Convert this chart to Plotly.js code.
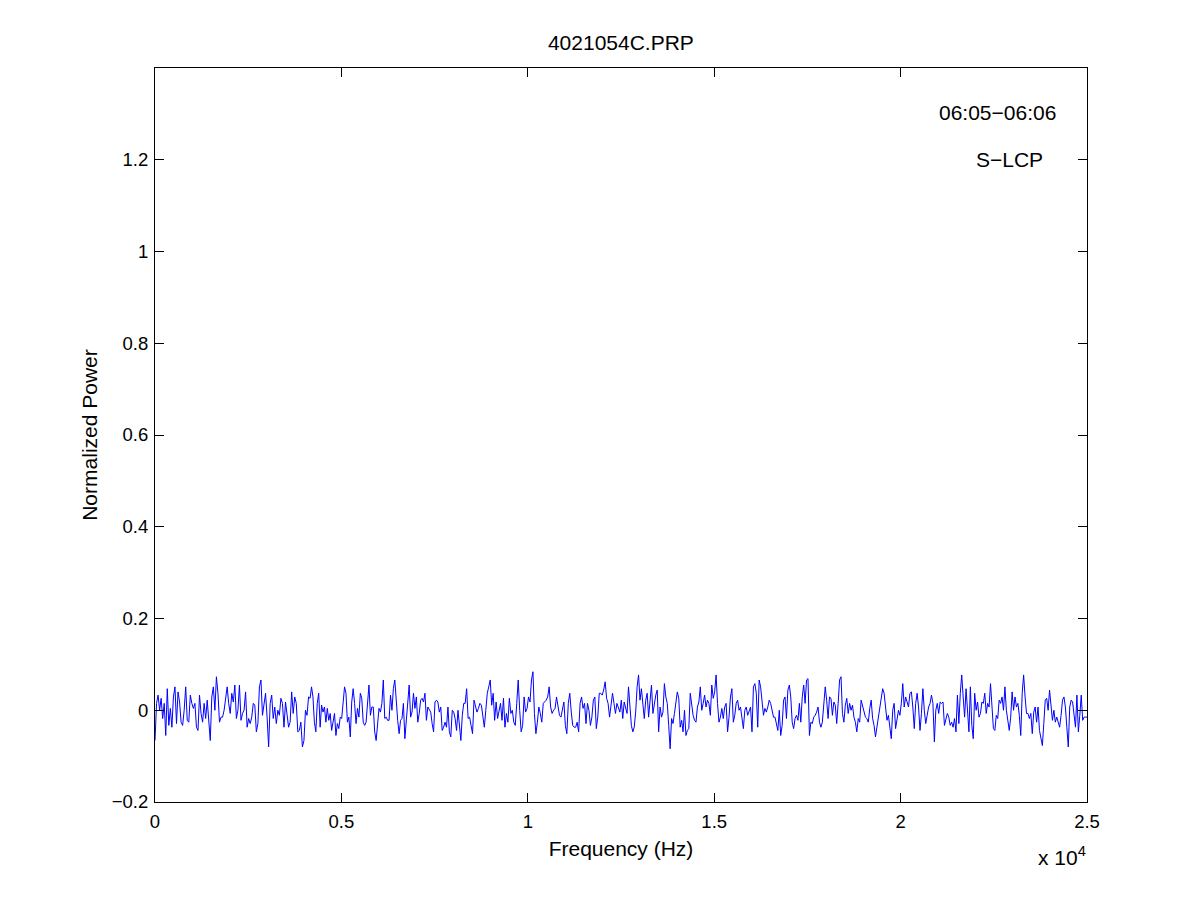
<!DOCTYPE html>
<html>
<head>
<meta charset="utf-8">
<script src="https://cdn.plot.ly/plotly-3.0.1.min.js"></script>
<style>
  body { margin: 0; background: #fff; }
  #chart { width: 1201px; height: 901px; }
</style>
</head>
<body>
<div id="chart"></div>
<script>
// Normalized power, one array per frequency band
var bandEdges = [0, 4160, 8320, 12470, 16630, 20790, 25000];

var band1 = [-0.066,0.015,0.033,0,0.026,-0.018,0.015,-0.055,0.047,-0.033,0.004,-0.037,0.029,0.051,-0.029,0.040,0.018,-0.026,-0.033,0,0.051,-0.022,-0.026,0.033,0.015,0.004,0.015,-0.037,-0.044,0.033,-0.007,-0.026,0.015,-0.018,0.022,-0.015,-0.066,0.029,0.051,0,0.073,0.037,-0.026,-0.015,-0.015,0,0.022,0.051,0.015,-0.007,0.037,0.018,0.055,-0.018,0,0.055,-0.022,-0.007,0,0.040,-0.037,-0.018,-0.029,-0.015,0.015,0.011,-0.047,-0.029,0.051,0.066,-0.011,0.015,0.037,-0.015,-0.080,0.015,0.033,-0.018,0.007,-0.029,0,-0.011,0.026,0.015,-0.037,0.018,-0.007,-0.037,-0.026,0.040,-0.007,0.029,0.015,-0.047,-0.044,-0.026,-0.080,-0.066,0,-0.011,0.029];

var band2 = [0.026,0.051,0.029,-0.026,-0.047,0.015,0.037,-0.037,0.011,-0.004,0.007,-0.026,0.004,-0.022,-0.007,-0.044,-0.026,-0.007,-0.055,-0.029,-0.040,-0.015,-0.018,0.018,0.051,0.037,-0.026,-0.015,-0.058,0.018,0.047,0.015,-0.029,0.004,-0.015,0.037,0.026,-0.026,-0.033,-0.026,0.022,0.055,-0.011,0.007,0.007,-0.047,-0.066,-0.037,0.004,-0.004,0.015,0.066,-0.018,-0.015,-0.022,-0.022,0.033,0,0.047,0.066,0.018,-0.022,-0.051,-0.022,-0.018,0.015,-0.062,-0.015,0.029,0.055,-0.015,-0.004,0.037,0.004,0.029,-0.026,-0.007,0.022,0.026,0.018,0.037,-0.022,0.007,0,-0.004,-0.029,-0.047,0.018,0.022,0.018,-0.004,0.007,-0.044,-0.037,-0.026,-0.037,0.007,-0.047,-0.058,0,-0.004,-0.018,-0.044,0,-0.037,-0.066,-0.011,0.015];

var band3 = [0.015,0.047,-0.018,-0.015,-0.033,-0.051,0.022,0.007,-0.004,0.004,0.015,0.011,-0.011,-0.037,0,0.037,0.051,0.066,0.011,0.037,-0.022,0.018,-0.018,0.004,0.015,-0.022,0.026,-0.037,-0.007,-0.026,0.026,-0.007,0,-0.026,-0.033,0.015,0.066,0,-0.047,-0.033,0.029,-0.004,0.004,0.029,0.018,0.066,0.084,-0.007,-0.051,-0.026,0.007,-0.007,-0.026,0.015,0.018,0.022,0.029,0.051,0.007,-0.007,0,0.004,0.029,0.007,-0.011,-0.015,0,0.018,-0.033,-0.051,0.015,0.037,-0.004,-0.033,-0.037,-0.037,-0.026,-0.047,0.015,0.029,0.004,0.015,-0.029,0.015,0,-0.033,-0.015,0.022,0.029,-0.040,-0.015,0.037,0.037,0.033,0.044,0.062,0.026,0.015,-0.015,0.015,0.037,0.015,-0.007,0.015,0.004];

var band4 = [-0.004,0.022,-0.018,0.018,0.007,-0.007,0.051,0,-0.033,-0.047,-0.037,-0.004,0.051,0.077,0.022,0.047,0.011,-0.018,0.022,0.037,-0.015,0.026,0.055,-0.007,0.015,0.033,0.044,-0.047,0.007,-0.015,-0.004,0.058,0.029,0.015,-0.033,-0.084,-0.018,-0.029,-0.007,0.015,0.040,0.026,-0.037,-0.022,-0.047,0,-0.055,-0.044,-0.040,0.037,0.011,-0.011,-0.022,-0.026,0.007,0.018,0.051,0,0.015,0.033,0.007,0.022,0.015,-0.011,0.055,0.026,0.040,0.077,0.015,-0.026,-0.015,0.004,-0.018,0.007,0.015,-0.047,-0.015,0.029,0.047,-0.026,-0.011,0.015,0.022,0,0.007,-0.018,-0.040,0,0.007,-0.011,0,0.007,-0.047,0.051,0.058,0.037,-0.037,0.066,0.051,0.015,-0.011,0.004,-0.004,0.007,0.022,0.015,0,-0.015];

var band5 = [-0.015,-0.033,-0.044,0,-0.055,-0.033,0.022,0.029,-0.018,0.044,0.055,0.029,-0.026,-0.040,-0.018,-0.011,-0.022,0.015,-0.026,0.029,0.055,0.015,0.066,0.069,-0.055,-0.026,-0.029,-0.015,-0.011,-0.004,0.007,-0.026,-0.037,-0.026,0.015,0.051,0.022,-0.018,0.029,0.026,-0.011,0.018,0.011,-0.029,0.015,0.066,0.073,-0.007,-0.026,0.011,0.026,-0.007,0.015,0,0.011,-0.015,-0.026,-0.047,-0.018,-0.026,0.022,0.007,-0.004,-0.015,-0.018,-0.026,0.004,0.022,-0.018,-0.033,-0.058,-0.037,-0.015,0.007,0.033,0.047,0.037,0.007,-0.022,-0.011,-0.037,-0.062,0,0.015,-0.040,-0.022,0,-0.011,0.015,0.058,0.007,0.029,0.018,0.007,0.037,0.040,0.007,-0.040,0.015,0.037,0.007,-0.044,-0.007,0.047,0,-0.029,-0.011,0.007];

var band6 = [0.015,0.033,0.015,-0.069,0,0.015,-0.007,0.018,0.015,0.018,-0.033,-0.022,-0.007,-0.015,-0.033,-0.026,-0.037,-0.018,-0.047,0.033,-0.029,0.037,0.077,0.029,-0.015,0.047,-0.007,-0.047,0.051,-0.033,-0.062,0.037,0,0.018,-0.015,-0.007,0.018,0.015,0.037,-0.007,0.015,0.007,0.058,-0.007,-0.040,-0.044,-0.011,-0.018,0.022,0.015,0.029,0,0.051,0,-0.022,-0.044,-0.015,0.040,0,0.029,0.007,0.015,-0.011,-0.055,0.037,0.077,0.029,-0.007,-0.007,-0.018,-0.007,-0.051,-0.004,0.007,-0.026,0.007,-0.044,-0.066,-0.077,-0.029,0.022,0.026,0,0.044,0.007,-0.022,0,-0.026,-0.015,-0.029,-0.037,-0.011,0.022,0.029,0.007,-0.037,-0.080,0.007,0.022,0.018,-0.011,-0.037,0.033,-0.047,-0.011,0.033,-0.022,-0.015,-0.015];

var xTickVals = [0, 5000, 10000, 15000, 20000, 25000];
var xTickText = ['0', '0.5', '1', '1.5', '2', '2.5'];
var yTickVals = [-0.2, 0, 0.2, 0.4, 0.6, 0.8, 1, 1.2];
var yTickText = ['\u22120.2', '0', '0.2', '0.4', '0.6', '0.8', '1', '1.2'];

//Spread each band's samples evenly over its frequency range
var bands = [band1, band2, band3, band4, band5, band6];
var freq = [];
var power = [];
for (let b = 0; b < bands.length; b++) {
    let lo = bandEdges[b], hi = bandEdges[b + 1];
    let n = bands[b].length;
    for (let i = 0; i < n; i++) {
        freq.push(lo + (hi - lo) * i / n);
        power.push(bands[b][i]);
    }
}
freq.push(25000);
power.push(band6[band6.length - 1]);

var family = 'Liberation Sans, Arial, Helvetica, sans-serif';
var tickFont = { family: family, size: 18.5, color: '#000' };
var textFont = { family: family, size: 21, color: '#000' };

var axisCommon = {
    showline: true,
    linecolor: '#000',
    linewidth: 1,
    mirror: 'ticks',
    ticks: 'inside',
    ticklen: 9,
    tickcolor: '#000',
    showgrid: false,
    zeroline: false,
    tickfont: tickFont
};

var layout = {
    width: 1201,
    height: 901,
    paper_bgcolor: '#fff',
    plot_bgcolor: '#fff',
    margin: { l: 155, r: 114, t: 68, b: 99 },
    showlegend: false,
    font: textFont,
    title: { text: '4021054C.PRP', font: textFont, x: 0.517, xanchor: 'center', y: 0.953, yanchor: 'middle' },
    xaxis: Object.assign({}, axisCommon, {
        range: [0, 25000],
        tickvals: xTickVals,
        ticktext: xTickText,
        ticklabelstandoff: 3,
        title: { text: 'Frequency (Hz)', font: textFont, standoff: 10 }
    }),
    yaxis: Object.assign({}, axisCommon, {
        range: [-0.2, 1.4],
        tickvals: yTickVals,
        ticktext: yTickText,
        ticklabelstandoff: 2,
        title: { text: 'Normalized Power', font: textFont, standoff: 8 }
    }),
    annotations: [
        { text: '06:05\u221206:06', xref: 'paper', yref: 'paper', x: 0.9045, y: 0.9387,
          xanchor: 'center', yanchor: 'middle', showarrow: false, font: textFont },
        { text: 'S\u2212LCP', xref: 'paper', yref: 'paper', x: 0.917, y: 0.8747,
          xanchor: 'center', yanchor: 'middle', showarrow: false, font: textFont },
        { text: 'x 10<sup>4</sup>', xref: 'paper', yref: 'paper', x: 0.973, y: -0.074,
          xanchor: 'center', yanchor: 'middle', showarrow: false, font: textFont }
    ]
};

Plotly.newPlot('chart', [{
    x: freq,
    y: power,
    mode: 'lines',
    line: { color: '#0000ff', width: 1 },
    hoverinfo: 'skip'
}], layout, { staticPlot: true });
</script>
</body>
</html>
